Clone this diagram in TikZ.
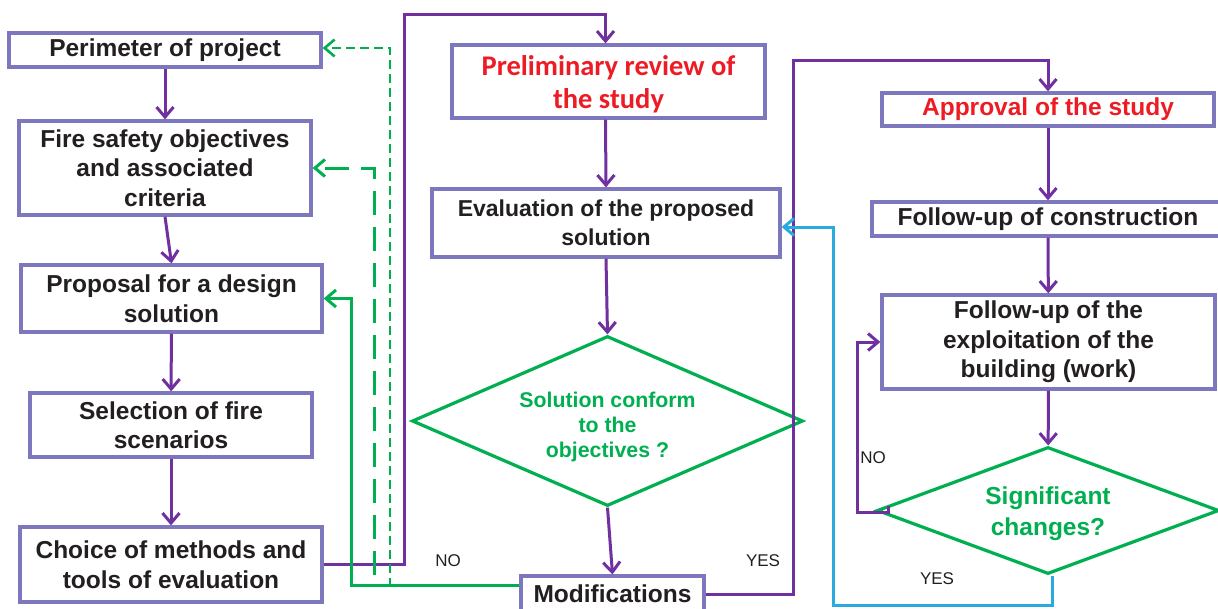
\documentclass[tikz,border=0pt]{standalone}
\usepackage{fontspec}
\setmainfont{Liberation Sans}
\newfontfamily\calib{Carlito}
\usetikzlibrary{arrows.meta,shapes.geometric}
\definecolor{boxc}{RGB}{125,120,190}
\definecolor{purp}{RGB}{112,48,160}
\definecolor{grn}{RGB}{0,176,80}
\definecolor{redt}{RGB}{237,28,36}
\definecolor{cyn}{RGB}{41,171,226}
\definecolor{txt}{RGB}{35,31,32}
\tikzset{
  box/.style={draw=boxc, line width=3.3pt, fill=white, align=center, inner sep=0pt, text=txt,
    font=\fontsize{24.5pt}{29.5pt}\selectfont\bfseries},
  redbox/.style={box, text=redt},
  dia/.style={diamond, draw=grn, line width=3.2pt, inner sep=0pt},
  diatext/.style={align=center, text=grn, inner sep=0pt},
  tip/.style={-{Straight Barb[length=10pt,width=17pt]}},
  arr/.style={draw=purp, line width=3pt, tip},
  garr/.style={draw=grn, line width=3pt, tip},
  gldash/.style={garr, dash pattern=on 24pt off 12pt},
  gsdash/.style={garr, line width=2.6pt, dash pattern=on 9pt off 5pt},
  carr/.style={draw=cyn, line width=3pt, tip},
  lbl/.style={font=\fontsize{17pt}{20pt}\selectfont, text=txt, inner sep=0pt}
}
\begin{document}
\begin{tikzpicture}[x=1pt,y=-1pt]
\clip (0,0) rectangle (1218,608);
\fill[white] (0,0) rectangle (1218,608);

% left column
\node[box, minimum width=312pt, minimum height=34pt] (per) at (165,50) {Perimeter of project};
\node[box, minimum width=292pt, minimum height=94pt] (fire) at (165,168) {Fire safety objectives\\and associated\\criteria};
\node[box, minimum width=301pt, minimum height=67pt] (prop) at (171.5,298.5) {Proposal for a design\\solution};
\node[box, minimum width=282pt, minimum height=64pt] (sel) at (171,425) {Selection of fire\\scenarios};
\node[box, minimum width=302pt, minimum height=75pt] (choice) at (171,564.5) {Choice of methods and\\tools of evaluation};

% middle column
\node[redbox, minimum width=313pt, minimum height=73pt, text depth=-6pt, font=\calib\fontsize{28.5pt}{33pt}\selectfont\bfseries] (prelim) at (608.5,81.5) {Preliminary review of\\the study};
\node[box, minimum width=348pt, minimum height=68pt, font=\fontsize{23pt}{29pt}\selectfont\bfseries] (eval) at (606,223) {Evaluation of the proposed\\solution};
\node[dia, minimum width=391pt, minimum height=170pt, aspect=2.3] (dia1) at (607.5,421) {};
\node[diatext, font=\fontsize{21.3pt}{25pt}\selectfont\bfseries] (dia1t) at (607.5,427) {Solution conform\\to the\\objectives ?};
\node[box, minimum width=183pt, minimum height=36pt] (mod) at (612.5,594) {Modifications};

% right column
\node[redbox, minimum width=332pt, minimum height=33pt] (appr) at (1048,109.5) {Approval of the study};
\node[box, minimum width=352pt, minimum height=34pt] (cons) at (1048,219) {Follow-up of construction};
\node[box, minimum width=333pt, minimum height=94pt] (expl) at (1048.5,342) {Follow-up of the\\exploitation of the\\building (work)};
\node[dia, minimum width=342pt, minimum height=127pt, aspect=2.7] (dia2) at (1048,510.5) {};
\node[diatext, font=\fontsize{24.5pt}{31pt}\selectfont\bfseries] (dia2t) at (1048,514) {Significant\\changes?};

% helper coordinates
\coordinate (c1) at (404,14);
\coordinate (c2) at (793,60);
\coordinate (n1) at (888,506);
\coordinate (nl) at (857,512);
\coordinate (y2) at (833,605);
\coordinate (g1) at (351,400);
\coordinate (d1) at (374,575);
\coordinate (d2) at (390,587);

% purple flow
\draw[arr] (per) -- (fire);
\draw[arr] (fire.south) -- (prop.north);
\draw[arr] (prop) -- (sel);
\draw[arr] (sel) -- (choice);
\draw[arr] (choice.east) -| (c1) -| ([xshift=-3pt]prelim.north);
\draw[arr] ([xshift=-3pt]prelim.south) -- (eval.north);
\draw[arr] (eval.south) -- (dia1.north);
\draw[arr] (dia1.south) -- (mod.north);
\draw[arr] (mod.east) -| (c2) -| (appr.north);
\draw[arr] (appr) -- (cons);
\draw[arr] (cons) -- (expl);
\draw[arr] (expl) -- (dia2);
\draw[arr] (n1) |- (nl) |- (expl.west);

% cyan YES loop
\draw[carr] ([xshift=4pt]dia2.south) |- (y2) |- ([yshift=-4pt]eval.east);

% green feedback
\draw[garr] ([yshift=9pt]mod.west) -| (g1) |- (prop.east);
\draw[gldash] (d1) |- (fire.east);
\draw[gsdash] (d2) |- ([yshift=2pt]per.east);

% labels
\node[lbl] (no1) at (448,561) {NO};
\node[lbl] (yes1) at (763,561) {YES};
\node[lbl] (no2) at (873,458) {NO};
\node[lbl] (yes2) at (937,579) {YES};
\end{tikzpicture}
\end{document}
